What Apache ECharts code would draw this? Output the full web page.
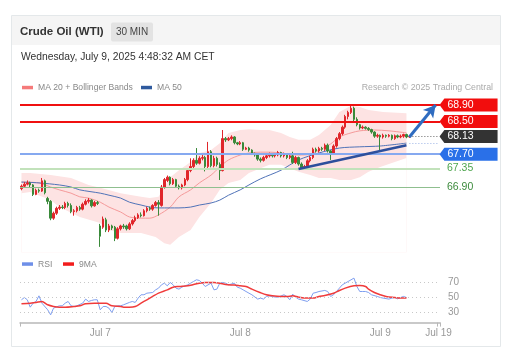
<!DOCTYPE html>
<html>
<head>
<meta charset="utf-8">
<script src="https://cdn.jsdelivr.net/npm/echarts@6/dist/echarts.min.js"></script>
<style>html,body{margin:0;padding:0;background:#fff;}#c{width:514px;height:357px;}</style>
</head>
<body>
<div id="c"></div>
<script>
// ---- data ----
// candles: [open, close, low, high], 30-minute bars
const candles = [
[66.86,66.92,66.82,66.96],[66.92,66.97,66.88,67.02],[66.97,67.00,66.94,67.06],[67.00,66.95,66.90,67.03],
[66.95,66.72,66.68,66.97],[66.72,66.82,66.70,66.86],[66.82,66.80,66.76,66.86],[66.80,67.05,66.78,67.12],
[67.05,66.76,66.72,67.08],[66.62,66.55,66.48,66.66],[66.55,66.14,66.09,66.58],[66.14,66.26,66.10,66.30],
[66.26,66.38,66.22,66.42],[66.38,66.41,66.34,66.46],[66.41,66.40,66.36,66.46],[66.40,66.50,66.36,66.54],
[66.50,66.45,66.40,66.54],[66.45,66.30,66.26,66.50],[66.30,66.32,66.20,66.36],[66.32,66.40,66.28,66.44],
[66.40,66.36,66.32,66.44],[66.36,66.48,66.33,66.52],[66.48,66.55,66.45,66.60],[66.55,66.58,66.50,66.63],
[66.58,66.44,66.40,66.60],[66.44,66.52,66.42,66.56],[66.52,66.50,66.46,66.56],
[65.95,65.70,65.44,66.00],[65.92,66.12,65.88,66.18],[66.10,65.85,65.80,66.15],[65.85,65.95,65.80,66.00],
[65.95,65.90,65.85,65.98],[65.92,65.65,65.58,65.95],[65.65,65.88,65.62,65.92],[65.88,65.95,65.84,65.98],
[65.95,65.93,65.88,66.00],[65.95,65.88,65.84,65.98],[65.88,66.00,65.85,66.04],[66.00,66.08,65.96,66.12],
[66.08,66.15,66.04,66.20],[66.15,66.22,66.12,66.26],[66.22,66.20,66.16,66.28],[66.20,66.32,66.18,66.36],
[66.32,66.38,66.28,66.42],[66.38,66.36,66.32,66.42],[66.36,66.45,66.32,66.48],[66.45,66.52,66.42,66.56],
[66.52,66.48,66.20,66.58],[66.45,66.90,66.42,66.95],[66.90,67.08,66.86,67.12],[67.06,67.14,67.02,67.18],
[67.14,66.98,66.94,67.16],[66.98,67.08,66.95,67.12],[67.08,66.92,66.88,67.10],[66.92,66.88,66.84,66.96],
[66.88,66.95,66.84,66.98],[66.95,67.08,66.92,67.12],[67.08,67.30,67.04,67.34],[67.30,67.40,67.26,67.60],
[67.40,67.55,67.36,67.60],[67.55,67.48,67.44,67.85],[67.48,67.60,67.45,67.65],[67.60,67.62,67.55,67.68],
[67.62,67.40,67.28,67.66],[67.40,67.76,67.36,68.00],[67.76,67.42,67.38,67.80],[67.42,67.60,67.38,67.66],
[67.60,67.45,67.40,67.64],[67.45,67.30,67.07,67.50],[67.30,68.08,67.28,68.29],[68.08,68.05,68.00,68.12],
[68.05,68.08,68.02,68.12],[68.08,68.12,68.04,68.16],[68.12,67.98,67.94,68.14],[67.98,67.95,67.92,68.00],
[67.95,67.98,67.92,68.02],[67.98,67.82,67.78,68.00],[67.82,67.85,67.80,67.88],[67.85,67.80,67.76,67.88],
[67.80,67.72,67.68,67.82],[67.72,67.68,67.64,67.74],[67.68,67.58,67.54,67.70],[67.58,67.55,67.50,67.62],
[67.55,67.62,67.52,67.66],[67.62,67.66,67.58,67.70],[67.66,67.70,67.62,67.74],[67.70,67.66,67.62,67.72],
[67.66,67.68,67.62,67.72],[67.68,67.74,67.65,67.78],[67.74,67.66,67.62,67.76],[67.66,67.70,67.62,67.74],
[67.70,67.62,67.58,67.72],[67.62,67.66,67.58,67.70],[67.66,67.50,67.46,67.76],[67.50,67.62,67.46,67.66],
[67.62,67.46,67.42,67.64],[67.46,67.36,67.33,67.50],[67.36,67.40,67.33,67.44],[67.40,67.54,67.36,67.58],
[67.54,67.62,67.50,67.66],[67.62,67.82,67.58,67.86],[67.82,67.78,67.74,67.86],[67.78,67.84,67.74,67.88],
[67.84,67.82,67.78,67.88],[67.82,67.92,67.78,67.96],[67.92,67.78,67.74,67.96],[67.78,67.72,67.56,67.80],
[67.72,67.90,67.68,67.94],[67.90,68.08,67.86,68.12],[68.08,68.20,68.04,68.24],[68.20,68.36,68.16,68.40],
[68.36,68.62,68.32,68.66],[68.62,68.72,68.55,68.76],[68.72,68.82,68.68,68.90],[68.82,68.55,68.50,68.86],
[68.55,68.42,68.38,68.60],[68.42,68.34,68.30,68.44],[68.34,68.36,68.31,68.40],[68.36,68.33,68.30,68.38],
[68.33,68.30,68.27,68.36],[68.30,68.24,68.20,68.32],[68.24,68.14,68.10,68.26],[68.14,68.16,68.10,68.20],
[68.16,68.12,67.80,68.18],[68.12,68.16,68.08,68.20],[68.16,68.14,68.10,68.18],[68.14,68.16,68.11,68.19],
[68.16,68.08,68.04,68.18],[68.08,68.15,68.05,68.18],[68.15,68.12,68.09,68.18],[68.12,68.14,68.09,68.18],
[68.14,68.18,68.10,68.20],[68.18,68.12,68.09,68.20],[68.12,68.13,68.10,68.16]
];
const slotCount = 144; // bar slots on the time axis (incl. empty space to the right)

// indicators as [barIndex, value]
const bbUpper = [[0,67.24],[3,67.24],[10,67.19],[17,67.12],[23,66.95],[27,66.88],[34,66.75],[41,66.66],[44,66.63],[47,66.66],[49,66.90],[51,67.14],[54,67.31],[58,67.51],[61,67.73],[65,67.80],[68,67.97],[71,68.22],[75,68.29],[78,68.31],[82,68.29],[85,68.29],[89,68.22],[92,68.12],[95,68.05],[99,68.05],[102,68.17],[106,68.41],[109,68.73],[113,68.88],[116,68.85],[119,68.78],[124,68.73],[132,68.70]];
const bbLower = [[0,66.75],[3,66.78],[10,66.58],[13,66.41],[20,66.17],[27,66.02],[30,65.85],[34,65.78],[41,65.78],[46,65.68],[49,65.53],[51,65.49],[54,65.68],[58,65.85],[61,66.17],[65,66.51],[68,66.83],[71,67.00],[75,67.07],[78,67.24],[82,67.36],[85,67.44],[89,67.44],[92,67.36],[95,67.27],[99,67.19],[102,67.12],[106,67.12],[109,67.07],[113,67.07],[116,67.14],[119,67.27],[123,67.39],[128,67.51],[132,67.61]];
const ma20 = [[0,67.02],[6,67.00],[10,66.90],[13,66.83],[17,66.75],[20,66.66],[23,66.63],[27,66.53],[30,66.41],[34,66.29],[37,66.17],[41,66.14],[44,66.14],[47,66.22],[51,66.41],[54,66.66],[58,66.83],[61,67.00],[65,67.19],[68,67.39],[71,67.56],[75,67.68],[78,67.73],[82,67.75],[85,67.75],[89,67.73],[92,67.70],[95,67.68],[99,67.70],[102,67.80],[106,67.95],[109,68.12],[113,68.22],[116,68.27],[121,68.29],[126,68.27],[132,68.22]];
const ma50 = [[0,67.02],[6,67.00],[13,66.95],[17,66.90],[20,66.83],[27,66.75],[30,66.70],[34,66.63],[37,66.53],[41,66.46],[44,66.41],[47,66.39],[51,66.39],[54,66.39],[58,66.41],[61,66.46],[65,66.51],[68,66.58],[71,66.70],[75,66.83],[78,66.95],[82,67.10],[89,67.31],[95,67.56],[102,67.73],[109,67.85],[116,67.88],[123,67.90],[132,67.97]];
const rsi = [[0,47.0],[1,50.0],[2,47.0],[3,37.3],[4,42.6],[5,44.8],[6,52.2],[7,42.6],[9,33.8],[10,27.2],[11,36.0],[13,39.1],[14,39.1],[15,42.6],[16,44.8],[17,39.1],[18,38.2],[19,39.1],[21,42.6],[22,47.9],[23,44.8],[24,46.1],[25,47.0],[26,47.0],[27,33.8],[28,38.2],[29,38.2],[30,36.0],[31,30.3],[32,38.2],[33,39.1],[34,39.1],[35,40.4],[37,43.5],[38,44.8],[39,43.5],[40,49.2],[41,53.6],[42,53.6],[43,55.7],[45,56.6],[46,60.1],[47,62.3],[48,66.7],[49,68.9],[50,65.4],[51,69.8],[52,66.7],[53,62.3],[54,61.0],[55,63.6],[57,66.7],[58,68.9],[59,71.1],[60,73.3],[61,72.4],[62,68.9],[63,64.5],[65,68.9],[66,60.1],[67,61.0],[68,68.9],[69,69.8],[70,68.9],[71,66.7],[73,68.9],[74,63.6],[75,62.3],[76,60.1],[77,57.9],[78,55.7],[79,53.6],[81,47.9],[82,49.2],[83,47.9],[84,51.4],[85,52.2],[86,51.4],[87,50.5],[88,50.5],[90,53.6],[91,51.4],[92,47.0],[93,54.4],[94,50.5],[95,47.9],[96,47.0],[98,44.8],[99,47.9],[100,55.7],[101,56.6],[102,57.9],[104,59.3],[105,57.9],[106,51.4],[107,53.6],[108,57.9],[109,62.3],[110,66.7],[111,68.9],[112,71.1],[114,75.5],[115,64.5],[116,57.9],[117,57.9],[118,57.9],[119,56.6],[120,53.6],[122,51.4],[123,50.0],[124,49.2],[126,47.9],[127,49.2],[128,50.0],[129,48.3],[130,50.0],[131,51.4],[132,50.0]];
const rsiMA9 = [[0,41.7],[3,42.6],[5,43.5],[7,44.8],[9,40.4],[11,38.2],[13,37.3],[15,37.3],[18,38.2],[20,39.1],[22,41.7],[25,42.6],[27,42.6],[29,42.6],[31,39.1],[34,38.2],[35,37.3],[37,37.3],[39,38.2],[41,42.6],[43,47.0],[45,51.4],[47,55.7],[50,60.1],[52,63.6],[54,64.5],[57,65.4],[59,67.1],[61,68.9],[63,69.8],[66,69.8],[68,68.9],[70,67.1],[73,66.3],[75,65.4],[77,64.5],[79,61.0],[82,56.3],[84,53.6],[86,52.2],[89,51.4],[91,51.4],[93,52.2],[95,50.5],[98,49.2],[100,49.2],[102,51.4],[104,52.7],[107,55.7],[109,59.3],[111,62.3],[114,65.4],[116,65.8],[118,64.5],[119,61.0],[121,56.6],[123,53.6],[125,51.4],[128,50.0],[130,49.2],[132,49.2]];

// price levels (Trading Central pivots) and current price
const resistanceLevels = [68.90, 68.50];
const lastPrice = 68.13;
const pivotLevel = 67.70;
const supportLevels = [67.35, 66.90];
// trend line [barIndex, price] and target arrow
const trendLine = [[95, 67.34], [132, 67.92]];
const targetArrow = [[133, 68.12], [142, 68.90]];
const ma50Projection = 67.97;

// axis ticks
const rsiLevels = [70, 50, 30];
const dateTickIndex = [27, 75, 123, 143];
const dateTickText = ['Jul 7', 'Jul 8', 'Jul 9', 'Jul 19'];

// ---- chart ----
const categories = Array.from({length: slotCount}, (_, i) => String(i));
const FONT = '"Liberation Sans", Arial, sans-serif';
const lastIdx = slotCount - 1;
const tagPath = 'path://M0,6 L5,0 L60,0 L60,12 L5,12 Z';
function tag(v, color) {
  return { name: v.toFixed(2), coord: [lastIdx, v], itemStyle: { color: color } };
}

const chart = echarts.init(document.getElementById('c'), null, { renderer: 'canvas' });
const option = {
  animation: false,
  textStyle: { fontFamily: FONT },
  graphic: [
    { type: 'rect', z: 0, shape: { x: 11.5, y: 15.5, width: 489, height: 331 }, style: { fill: '#fff', stroke: '#e4e8ea', lineWidth: 1 } },
    { type: 'rect', z: 0, shape: { x: 12, y: 16, width: 488, height: 29 }, style: { fill: '#f5f5f5' } },
    { type: 'text', z: 5, x: 20, y: 32, style: { text: 'Crude Oil (WTI)', font: 'bold 11.5px ' + FONT, fill: '#333', verticalAlign: 'middle' } },
    { type: 'rect', z: 5, shape: { x: 111, y: 22.5, width: 42, height: 19, r: 2 }, style: { fill: '#e3e3e3' } },
    { type: 'text', z: 6, x: 132, y: 32, style: { text: '30 MIN', font: '10px ' + FONT, fill: '#444', align: 'center', verticalAlign: 'middle' } },
    { type: 'text', z: 5, x: 21, y: 57, style: { text: 'Wednesday, July 9, 2025 4:48:32 AM CET', font: '10.3px ' + FONT, fill: '#333', verticalAlign: 'middle' } },
    { type: 'rect', z: 5, shape: { x: 22, y: 85.8, width: 11, height: 3.5 }, style: { fill: '#f57a7a' } },
    { type: 'text', z: 5, x: 38, y: 88, style: { text: 'MA 20 + Bollinger Bands', font: '8.6px ' + FONT, fill: '#888', verticalAlign: 'middle' } },
    { type: 'rect', z: 5, shape: { x: 141, y: 85.8, width: 11, height: 3.5 }, style: { fill: '#2f5a9e' } },
    { type: 'text', z: 5, x: 157, y: 88, style: { text: 'MA 50', font: '8.6px ' + FONT, fill: '#888', verticalAlign: 'middle' } },
    { type: 'text', z: 5, x: 493, y: 88, style: { text: 'Research \u00a9 2025 Trading Central', font: '8.8px ' + FONT, fill: '#aaa', align: 'right', verticalAlign: 'middle' } },
    { type: 'rect', z: 5, shape: { x: 22, y: 262.3, width: 11, height: 3.5 }, style: { fill: '#6e8fe8' } },
    { type: 'text', z: 5, x: 38, y: 264.5, style: { text: 'RSI', font: '8.6px ' + FONT, fill: '#888', verticalAlign: 'middle' } },
    { type: 'rect', z: 5, shape: { x: 63, y: 262.3, width: 11, height: 3.5 }, style: { fill: '#f21c1c' } },
    { type: 'text', z: 5, x: 79, y: 264.5, style: { text: '9MA', font: '8.6px ' + FONT, fill: '#888', verticalAlign: 'middle' } }
  ],
  grid: [
    { left: 20, right: 74, top: 96.8, height: 155.8 },
    { left: 20, right: 74, top: 267.1, height: 55.5 }
  ],
  xAxis: [
    { type: 'category', gridIndex: 0, data: categories, boundaryGap: true, show: false },
    { type: 'category', gridIndex: 1, data: categories, boundaryGap: true,
      axisLine: { lineStyle: { color: '#b8b8b8', width: 1.5 } },
      axisTick: { show: true, length: 4, interval: (i) => i === 0 || i === lastIdx, lineStyle: { color: '#b8b8b8' } },
      axisLabel: { color: '#999', fontSize: 10, margin: 6,
        interval: (i) => dateTickIndex.indexOf(i) >= 0,
        formatter: (v, i) => { const k = dateTickIndex.indexOf(i); return k >= 0 ? dateTickText[k] : ''; } } }
  ],
  yAxis: [
    { type: 'value', gridIndex: 0, min: 65.3, max: 69.1, show: false },
    { type: 'value', gridIndex: 1, min: 17, max: 90, show: false }
  ],
  series: [
    { type: 'line', z: 1, xAxisIndex: 0, yAxisIndex: 0, data: bbUpper, symbol: 'none', silent: true,
      lineStyle: { width: 0 }, areaStyle: { color: '#fde3e3', opacity: 1, origin: 'start' } },
    { type: 'line', z: 1, xAxisIndex: 0, yAxisIndex: 0, data: bbLower, symbol: 'none', silent: true,
      lineStyle: { width: 0 }, areaStyle: { color: '#ffffff', opacity: 1, origin: 'start' } },
    { type: 'line', z: 2, xAxisIndex: 0, yAxisIndex: 0, data: ma20, symbol: 'none', silent: true, smooth: 0.3,
      lineStyle: { width: 1, color: '#f59a9a' } },
    { type: 'line', z: 2, xAxisIndex: 0, yAxisIndex: 0, data: ma50, symbol: 'none', silent: true, smooth: 0.3,
      lineStyle: { width: 1, color: '#5073b8' } },
    { type: 'candlestick', z: 4, xAxisIndex: 0, yAxisIndex: 0, data: candles, barWidth: 2,
      itemStyle: { color: '#e0262b', color0: '#3a8a3a', borderColor: '#e0262b', borderColor0: '#3a8a3a', borderWidth: 1 },
      markLine: {
        silent: true, symbol: ['none', 'none'], animation: false,
        label: { show: false },
        data: [
          { yAxis: resistanceLevels[0], lineStyle: { color: '#f01010', width: 2, type: 'solid' } },
          { yAxis: resistanceLevels[1], lineStyle: { color: '#f01010', width: 2, type: 'solid' } },
          { yAxis: pivotLevel, lineStyle: { color: '#86a9f0', width: 2, type: 'solid' } },
          { yAxis: supportLevels[0], lineStyle: { color: '#c2e2bb', width: 2, type: 'solid' },
            label: { show: true, position: 'end', distance: 7, color: '#4fa64f', fontSize: 10.5, formatter: supportLevels[0].toFixed(2) } },
          { yAxis: supportLevels[1], lineStyle: { color: '#8fbf8f', width: 1, type: 'solid' },
            label: { show: true, position: 'end', distance: 7, color: '#3d8b3d', fontSize: 10.5, formatter: supportLevels[1].toFixed(2) } },
          [ { coord: [candles.length - 1, lastPrice], lineStyle: { color: '#666', width: 1, type: [1, 2] } }, { coord: [lastIdx, lastPrice] } ],
          [ { coord: [candles.length - 1, ma50Projection], lineStyle: { color: '#9bb3e6', width: 1, type: [1, 2] } }, { coord: [lastIdx, ma50Projection] } ],
          [ { coord: trendLine[0], lineStyle: { color: '#2d4f9c', width: 2.5, type: 'solid' } }, { coord: trendLine[1] } ],
          [ { coord: targetArrow[0], lineStyle: { color: '#2f6cc0', width: 3, type: 'solid' } }, { coord: targetArrow[1], symbol: 'arrow', symbolSize: [10, 12] } ]
        ]
      },
      markPoint: {
        silent: true, animation: false,
        symbol: tagPath, symbolSize: [58, 13], symbolOffset: [30, 0], symbolKeepAspect: false,
        label: { show: true, position: 'inside', offset: [-8, 0], color: '#fff', fontSize: 10.5, formatter: (p) => p.name },
        data: [
          tag(resistanceLevels[0], '#f20d0d'),
          tag(resistanceLevels[1], '#f20d0d'),
          tag(lastPrice, '#333333'),
          tag(pivotLevel, '#2a70e8')
        ]
      }
    },
    { type: 'line', z: 2, xAxisIndex: 1, yAxisIndex: 1, data: rsi, symbol: 'none', silent: true,
      lineStyle: { width: 1, color: '#7f9ff0' },
      markLine: {
        silent: true, symbol: ['none', 'none'], animation: false,
        lineStyle: { color: '#c8c8c8', width: 1, type: [1, 3] },
        label: { show: true, position: 'end', distance: 8, color: '#999', fontSize: 10 },
        data: rsiLevels.map(v => ({ yAxis: v }))
      } },
    { type: 'line', z: 3, xAxisIndex: 1, yAxisIndex: 1, data: rsiMA9, symbol: 'none', silent: true, smooth: 0.3,
      lineStyle: { width: 1.5, color: '#f03b3b' } }
  ]
};
chart.setOption(option);
</script>
</body>
</html>
